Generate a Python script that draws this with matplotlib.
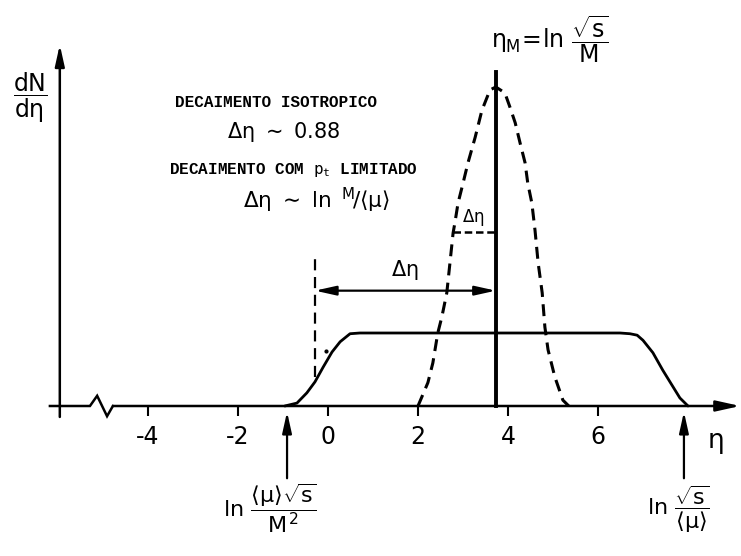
import matplotlib
matplotlib.use("Agg")
import matplotlib.pyplot as plt
from matplotlib import font_manager

# pseudorapidity distribution sketch: plateau + isotropic decay bump
eta_plateau = [-0.96, -0.69, -0.47, -0.29, -0.11, 0.09, 0.27, 0.49, 0.71, 1.0,
               6.49, 6.71, 6.87, 7.0, 7.22, 7.44, 7.64, 7.82, 8.0]
dn_plateau = [0.0, 0.04, 0.18, 0.33, 0.53, 0.74, 0.88, 0.99, 1.0, 1.0,
              1.0, 0.99, 0.97, 0.90, 0.73, 0.49, 0.29, 0.11, 0.0]

eta_decay = [2.0, 2.22, 2.33, 2.44, 2.53, 2.64, 2.71, 2.78, 2.82, 2.89, 3.0,
             3.11, 3.27, 3.42, 3.60, 3.73, 3.93, 4.04, 4.16, 4.27, 4.38, 4.44,
             4.53, 4.60, 4.67, 4.76, 4.82, 4.89, 5.04, 5.22, 5.35]
dn_decay = [0.0, 0.32, 0.59, 1.0, 1.22, 1.55, 1.96, 2.37, 2.51, 2.78, 3.05,
            3.33, 3.68, 4.05, 4.33, 4.37, 4.29, 4.10, 3.88, 3.60, 3.33, 3.05,
            2.78, 2.41, 1.96, 1.55, 1.08, 0.77, 0.40, 0.08, 0.0]

eta_m = 3.73          # ln(sqrt(s)/M)
eta_low = -0.91       # ln(<mu> sqrt(s) / M^2)
eta_high = 7.91       # ln(sqrt(s) / <mu>)
eta_limited = -0.29   # left end of the limited-pt spread
half_height = 2.38
xticks = [-4, -2, 0, 2, 4, 6]

names = {f.name for f in font_manager.fontManager.ttflist}
mono_font = "Liberation Mono" if "Liberation Mono" in names else "DejaVu Sans Mono"

plt.rcParams["axes.unicode_minus"] = False
plt.rcParams["mathtext.fontset"] = "custom"
plt.rcParams["mathtext.rm"] = "DejaVu Sans"
plt.rcParams["mathtext.it"] = "DejaVu Sans"
plt.rcParams["mathtext.bf"] = "DejaVu Sans:bold"
plt.rcParams["mathtext.tt"] = "DejaVu Sans Mono"

fig = plt.figure(figsize=(7.41, 5.56), dpi=100)
ax = fig.add_axes([0, 0, 1, 1])
ax.set_xlim(-7.289, 9.178)
ax.set_ylim(-2.055, 5.562)
for s in ax.spines.values():
    s.set_visible(False)
ax.spines["bottom"].set_position(("data", 0))
ax.set_yticks([])
ax.set_xticks(xticks)
ax.set_xticklabels([str(t) for t in xticks], fontsize=17, fontweight="medium")
ax.tick_params(axis="x", direction="out", length=7.5, width=1.5, pad=6)

k = "black"
arrow_head = "-|>,head_length=0.9,head_width=0.2"

# axes drawn by hand, with a break near the left end
ax.plot([-6.18, -5.29, -5.13, -4.91, -4.78], [0, 0, 0.14, -0.14, 0],
        color=k, lw=1.8, solid_joinstyle="miter")
ax.annotate("", xy=(9.16, 0), xytext=(-4.78, 0),
            arrowprops=dict(arrowstyle=arrow_head, color=k, lw=1.8,
                            shrinkA=0, shrinkB=0, mutation_scale=16))
ax.annotate("", xy=(-5.96, 4.95), xytext=(-5.96, -0.15),
            arrowprops=dict(arrowstyle=arrow_head, color=k, lw=1.8,
                            shrinkA=0, shrinkB=0, mutation_scale=14))

# curves
ax.plot(eta_plateau, dn_plateau, color=k, lw=2.0, solid_capstyle="round")
ax.plot(eta_decay, dn_decay, color=k, lw=2.2, linestyle=(0, (3.9, 2.4)))
ax.plot([eta_m, eta_m], [0, 4.58], color=k, lw=2.8)
ax.plot([eta_limited, eta_limited], [0.40, 2.10], color=k, lw=1.6,
        linestyle=(0, (5, 3)))
ax.plot([2.78, eta_m], [half_height, half_height], color=k, lw=1.8,
        linestyle=(0, (3, 1.5)))
ax.plot([-0.04], [0.75], "o", color=k, ms=2)

# width arrow
ax.annotate("", xy=(eta_m, 1.58), xytext=(eta_limited, 1.58),
            arrowprops=dict(arrowstyle="<|-|>,head_length=0.9,head_width=0.2",
                            color=k, lw=1.6, shrinkA=0, shrinkB=0,
                            mutation_scale=14))

# markers below the axis
for x in (eta_low, eta_high):
    ax.annotate("", xy=(x, -0.08), xytext=(x, -0.99),
                arrowprops=dict(arrowstyle=arrow_head, color=k, lw=1.6,
                                shrinkA=0, shrinkB=0, mutation_scale=14))

# labels
ax.text(-6.62, 4.22, r"$\dfrac{dN}{d\eta}$", fontsize=17, ha="center", va="center")
ax.text(8.6, -0.51, r"$\eta$", fontsize=19, ha="center", va="center")
ax.text(4.93, 5.02, r"$\eta_{M}\!=\!\ln\,\dfrac{\sqrt{s}}{M}$", fontsize=17,
        ha="center", va="center")
ax.text(-1.29, -1.40, r"$\ln\,\dfrac{\langle\mu\rangle\sqrt{s}}{M^{2}}$",
        fontsize=16, ha="center", va="center")
ax.text(7.78, -1.42, r"$\ln\,\dfrac{\sqrt{s}}{\langle\mu\rangle}$",
        fontsize=16, ha="center", va="center")
ax.text(1.71, 1.86, r"$\Delta\eta$", fontsize=15, ha="center", va="center")
ax.text(3.22, 2.58, r"$\Delta\eta$", fontsize=12, ha="center", va="center")

ax.text(-1.16, 4.16, "DECAIMENTO ISOTROPICO", fontsize=11.5, family=mono_font,
        fontweight="bold", ha="center", va="center")
ax.text(-0.98, 3.75, r"$\Delta\eta\ \sim\ 0.88$", fontsize=15,
        ha="center", va="center")
ax.text(-0.76, 3.23, r"DECAIMENTO COM $\mathtt{p}_{\mathtt{t}}$ LIMITADO",
        fontsize=11.5, family=mono_font, fontweight="bold",
        ha="center", va="center")
ax.text(-0.25, 2.82, r"$\Delta\eta\ \sim\ \ln\ {}^{M}\!/\langle\mu\rangle$",
        fontsize=15.5, ha="center", va="center")

fig.savefig("out.png", dpi=100, facecolor="white")
